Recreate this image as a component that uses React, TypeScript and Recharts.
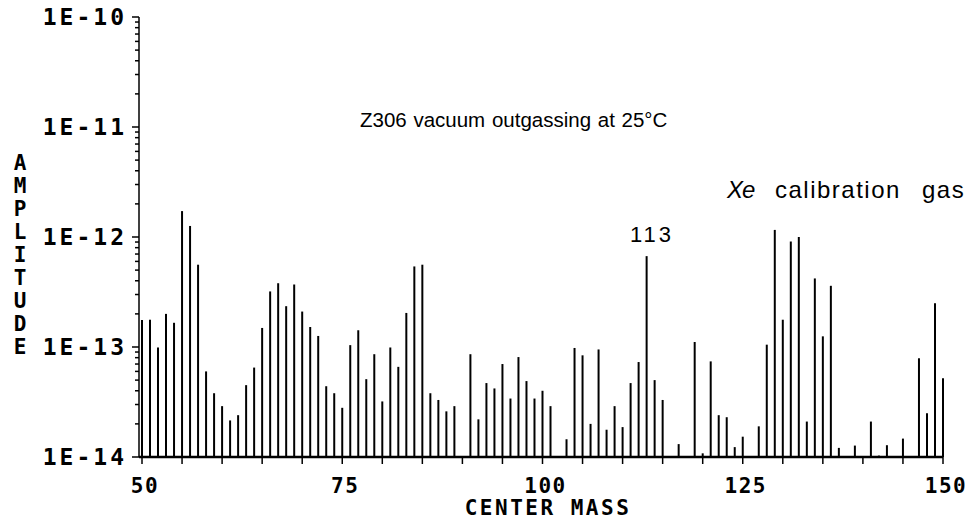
import { BarChart, Bar, XAxis, YAxis } from 'recharts';

// center mass of each peak and its amplitude
const masses = [
  50, 51, 52, 53, 54, 55, 56, 57, 58, 59, 60, 61, 62, 63, 64, 65, 66, 67, 68, 69,
  70, 71, 72, 73, 74, 75, 76, 77, 78, 79, 80, 81, 82, 83, 84, 85, 86, 87, 88, 89,
  91, 92, 93, 94, 95, 96, 97, 98, 99, 100, 101, 103, 104, 105, 106, 107, 108, 109,
  110, 111, 112, 113, 114, 115, 117, 119, 120, 121, 122, 123, 124, 125, 127, 128,
  129, 130, 131, 132, 133, 134, 135, 136, 137, 139, 141, 142, 143, 145, 147, 148,
  149, 150,
];

const amplitudes = [
  1.76e-13, 1.77e-13, 9.9e-14, 2.0e-13, 1.66e-13, 1.72e-12, 1.26e-12, 5.6e-13, 6.0e-14, 3.8e-14,
  2.9e-14, 2.15e-14, 2.4e-14, 4.5e-14, 6.5e-14, 1.49e-13, 3.2e-13, 3.8e-13, 2.35e-13, 3.7e-13,
  2.1e-13, 1.52e-13, 1.26e-13, 4.4e-14, 3.8e-14, 2.8e-14, 1.04e-13, 1.42e-13, 5.1e-14, 8.6e-14,
  3.2e-14, 9.9e-14, 6.6e-14, 2.04e-13, 5.4e-13, 5.6e-13, 3.8e-14, 3.3e-14, 2.6e-14, 2.9e-14,
  8.6e-14, 2.2e-14, 4.7e-14, 4.2e-14, 7.0e-14, 3.4e-14, 8.1e-14, 4.9e-14, 3.4e-14, 4.0e-14,
  2.9e-14, 1.45e-14, 9.8e-14, 8.4e-14, 2.0e-14, 9.5e-14, 1.77e-14, 2.9e-14,
  1.87e-14, 4.7e-14, 7.3e-14, 6.7e-13, 5.0e-14, 3.3e-14, 1.31e-14, 1.11e-13, 1.08e-14, 7.4e-14,
  2.4e-14, 2.3e-14, 1.23e-14, 1.53e-14, 1.9e-14, 1.05e-13,
  1.16e-12, 1.77e-13, 9.1e-13, 1.0e-12, 2.1e-14, 4.2e-13, 1.25e-13, 3.6e-13, 1.21e-14, 1.27e-14,
  2.1e-14, 1.03e-14, 1.28e-14, 1.47e-14, 7.9e-14, 2.5e-14,
  2.5e-13, 5.2e-14,
];

const massTicks = [50, 55, 60, 65, 70, 75, 80, 85, 90, 95, 100, 105, 110, 115, 120, 125, 130, 135, 140, 145, 150];
const massLabels = [50, 75, 100, 125, 150];
const decades = [1e-14, 1e-13, 1e-12, 1e-11, 1e-10];
const decadeLabels = ['1E-14', '1E-13', '1E-12', '1E-11', '1E-10'];
const minorSteps = [1, 2, 3, 4, 5, 6, 7, 8, 9];

const data = masses.map((m, i) => ({ mass: m, amp: amplitudes[i] }));
const ampTicks = decades
  .slice(0, -1)
  .flatMap((d) => minorSteps.map((k) => k * d))
  .concat([decades[decades.length - 1]]);

const plotterFont = '"DejaVu Sans Mono", monospace';
const labelFont = '"Liberation Sans", Arial, sans-serif';

const decadeIndex = (v: number) =>
  decades.findIndex((d) => Math.abs(Math.log10(v) - Math.log10(d)) < 1e-6);

const AmpTick = ({ x, y, payload }: any) => {
  const idx = decadeIndex(payload.value);
  return (
    <g>
      <line x1={x - (idx >= 0 ? 7 : 4)} y1={y} x2={x} y2={y} stroke="#000" strokeWidth={1.5} />
      {idx >= 0 && (
        <text
          x={x - 12}
          y={y}
          dy={8}
          textAnchor="end"
          fontFamily={plotterFont}
          fontWeight="bold"
          fontSize={23}
          letterSpacing={3}
          fill="#000"
        >
          {decadeLabels[idx]}
        </text>
      )}
    </g>
  );
};

const MassTick = ({ x, y, payload }: any) => {
  const major = massLabels.includes(payload.value);
  return (
    <g>
      <line x1={x} y1={y} x2={x} y2={y + 7} stroke="#000" strokeWidth={1.5} />
      {major && (
        <text
          x={x + 3}
          y={y}
          dy={36}
          textAnchor="middle"
          fontFamily={plotterFont}
          fontWeight="bold"
          fontSize={21}
          letterSpacing={1.5}
          fill="#000"
        >
          {payload.value}
        </text>
      )}
    </g>
  );
};

export default function App() {
  return (
    <div style={{ position: 'fixed', left: 0, top: 0, width: 976, height: 521, background: '#fff' }}>
      <BarChart
        width={976}
        height={521}
        data={data}
        margin={{ top: 17, right: 33, left: 0, bottom: 0 }}
      >
        <XAxis
          dataKey="mass"
          type="number"
          domain={[50, 150]}
          padding={{ left: 3, right: 0 }}
          ticks={massTicks}
          interval={0}
          height={64}
          tickSize={0}
          tickMargin={0}
          axisLine={{ stroke: '#000', strokeWidth: 2.5 }}
          tick={<MassTick />}
        />
        <YAxis
          scale="log"
          type="number"
          domain={[1e-14, 1e-10]}
          allowDataOverflow
          ticks={ampTicks}
          interval={0}
          width={139}
          tickSize={0}
          tickMargin={0}
          axisLine={{ stroke: '#000', strokeWidth: 1.5 }}
          tick={<AmpTick />}
        />
        <Bar dataKey="amp" fill="#000" barSize={2} isAnimationActive={false} />
      </BarChart>
      <svg
        width={976}
        height={521}
        style={{ position: 'absolute', left: 0, top: 0, pointerEvents: 'none' }}
      >
        <text x={20} y={170} textAnchor="middle" fontFamily={plotterFont} fontWeight="bold" fontSize={21} fill="#000">
          {'AMPLITUDE'.split('').map((c, i) => (
            <tspan key={i} x={20} dy={i === 0 ? 0 : 23}>
              {c}
            </tspan>
          ))}
        </text>
        <text
          x={548}
          y={515}
          textAnchor="middle"
          fontFamily={plotterFont}
          fontWeight="bold"
          fontSize={21}
          letterSpacing={2.5}
          fill="#000"
        >
          CENTER MASS
        </text>
        <text x={360} y={127} fontFamily={labelFont} fontSize={20.5} fill="#000" wordSpacing={1}>
          Z306 vacuum outgassing at 25°C
        </text>
        <text x={727} y={198} fontFamily={labelFont} fontSize={24} fill="#000" letterSpacing={1.5}>
          <tspan fontStyle="italic" letterSpacing={-1}>Xe</tspan>
          <tspan x={775}>calibration</tspan>
          <tspan x={922}>gas</tspan>
        </text>
        <text x={630} y={242} fontFamily={labelFont} fontSize={22} letterSpacing={3} fill="#000">
          113
        </text>
      </svg>
    </div>
  );
}
